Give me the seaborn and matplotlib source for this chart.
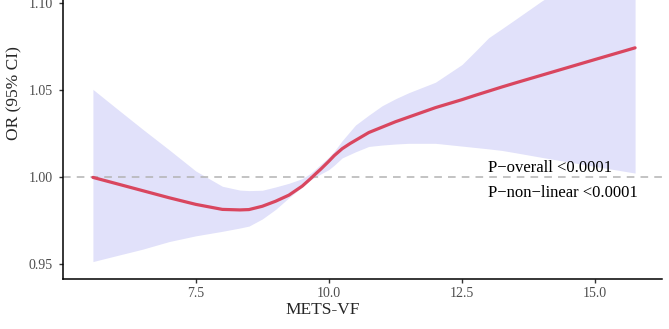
import numpy as np
import pandas as pd
import seaborn as sns
import matplotlib.pyplot as plt

# Values (restricted cubic spline, OR with 95% CI)
mets_vf = [5.57, 6.0, 6.5, 7.0, 7.5, 8.0, 8.33, 8.5, 8.75, 9.0, 9.25, 9.5, 9.65,
           9.75, 9.85, 10.0, 10.1, 10.25, 10.4, 10.5, 10.75, 11.0, 11.25, 11.5,
           12.0, 12.5, 12.75, 13.0, 13.25, 13.5, 14.0, 14.5, 15.0, 15.75]
or_est = [1.0000, 0.9965, 0.9924, 0.9883, 0.9845, 0.9816, 0.9813, 0.9815, 0.9834,
          0.9863, 0.9898, 0.9950, 0.9991, 1.0020, 1.0048, 1.0093, 1.0125, 1.0165,
          1.0195, 1.0213, 1.0258, 1.0289, 1.0320, 1.0347, 1.0401, 1.0447, 1.0472,
          1.0496, 1.0520, 1.0543, 1.0588, 1.0633, 1.0678, 1.0745]
ci_upper = [1.0506, 1.0400, 1.0278, 1.0159, 1.0037, 0.9949, 0.9927, 0.9924, 0.9926,
            0.9945, 0.9966, 0.9993, 1.0022, 1.0048, 1.0076, 1.0117, 1.0150, 1.0211,
            1.0265, 1.0301, 1.0358, 1.0412, 1.0452, 1.0487, 1.0547, 1.0649, 1.0725,
            1.0803, 1.0855, 1.0908, 1.1015, 1.1110, 1.1210, 1.1360]
ci_lower = [0.9516, 0.9549, 0.9587, 0.9631, 0.9664, 0.9690, 0.9709, 0.9720, 0.9761,
            0.9816, 0.9883, 0.9945, 0.9985, 1.0003, 1.0020, 1.0045, 1.0070, 1.0112,
            1.0133, 1.0147, 1.0178, 1.0186, 1.0192, 1.0196, 1.0196, 1.0180, 1.0172,
            1.0164, 1.0155, 1.0142, 1.0115, 1.0089, 1.0063, 1.0025]
x_ticks = [7.5, 10.0, 12.5, 15.0]
y_ticks = [0.95, 1.00, 1.05, 1.10]
p_texts = ["P\u2212overall <0.0001", "P\u2212non\u2212linear <0.0001"]

df = pd.DataFrame({"METS-VF": mets_vf, "OR": or_est,
                   "lower": ci_lower, "upper": ci_upper})

sns.set_style("ticks")
plt.rcParams['font.family'] = ['Liberation Serif', 'DejaVu Serif']

fig = plt.figure(figsize=(6.69, 3.29), dpi=100)
ax = fig.add_axes([0.0937, 0.1505, 0.8954, 0.8495])

ax.fill_between(df["METS-VF"], df["lower"], df["upper"], color="#E1E1FA", lw=0)
ax.axhline(1.0, color="#B3B3B3", lw=1.1, ls=(0, (5, 4)))
sns.lineplot(data=df, x="METS-VF", y="OR", ax=ax, color="#D9465F", lw=2.3)

ax.text(12.99, 1.0033, p_texts[0], fontsize=12, color="black", va="baseline")
ax.text(12.99, 0.9889, p_texts[1], fontsize=12, color="black", va="baseline")

ax.set_xlim(5.002, 16.25)
ax.set_ylim(0.9413, 1.102)
ax.set_xticks(x_ticks)
ax.set_xticklabels([f"{v:.1f}" for v in x_ticks])
ax.set_yticks(y_ticks)
ax.set_yticklabels([f"{v:.2f}" for v in y_ticks])
ax.tick_params(axis="both", labelsize=10, labelcolor="#4D4D4D", length=3.2,
               width=1.0, color="#333333")
ax.tick_params(axis="x", pad=2)
ax.tick_params(axis="y", pad=4)

for s in ["top", "right"]:
    ax.spines[s].set_visible(False)
for s in ["left", "bottom"]:
    ax.spines[s].set_linewidth(1.1)
    ax.spines[s].set_color("black")

ax.set_xlabel("METS-VF", fontsize=12.5)
ax.set_ylabel("OR (95% CI)", fontsize=12.5)
ax.xaxis.set_label_coords(0.4346, -0.08)
ax.yaxis.set_label_coords(-0.068, 0.667)

fig.savefig("out.png", dpi=100)
